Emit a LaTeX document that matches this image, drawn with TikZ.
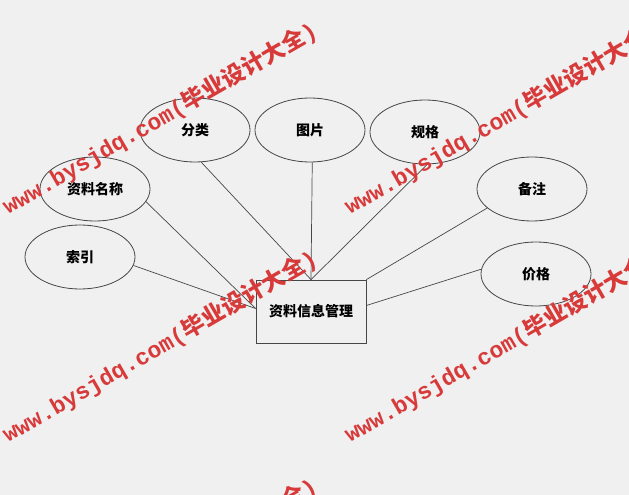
\documentclass[tikz,border=0pt]{standalone}
\usepackage{fontspec}
\newfontfamily\cjk{Noto Sans CJK SC}
\newfontfamily\wmfont{Liberation Mono}
\usetikzlibrary{shapes.geometric}
\definecolor{bggray}{RGB}{240,240,240}
\definecolor{edgegray}{RGB}{70,70,70}
\definecolor{wmred}{RGB}{216,58,58}

\begin{document}
\begin{tikzpicture}[x=1pt,y=-1pt,
	attr/.style={ellipse,draw=edgegray,line width=0.8pt,minimum width=110pt,minimum height=64pt,inner sep=0pt,font=\cjk\bfseries\fontsize{14}{16}\selectfont},
	entity/.style={rectangle,draw=edgegray,line width=0.8pt,minimum width=110pt,minimum height=63pt,inner sep=0pt,font=\cjk\bfseries\fontsize{14}{16}\selectfont},
	link/.style={draw=edgegray,line width=0.7pt},
	wmark/.style={text=wmred,rotate=30,anchor=base west,inner sep=0pt,font=\wmfont\bfseries\fontsize{23}{25}\selectfont}]
	
	% background
	\fill[bggray] (0,0) rectangle (629,495);
	\useasboundingbox (0,0) rectangle (629,495);
	
	% entity and attributes
	\node[entity] (ziliao) at (311,311.5) {资料信息管理};
	
	\node[attr] (fenlei) at (195,130) {分类};
	\node[attr] (tupian) at (310,130) {图片};
	\node[attr] (guige) at (425,132) {规格};
	\node[attr] (mingcheng) at (95,189) {资料名称};
	\node[attr] (beizhu) at (532,189) {备注};
	\node[attr] (suoyin) at (80,257) {索引};
	\node[attr] (jiage) at (536,274) {价格};
	
	\draw[link] (suoyin.-9) -- ([yshift=3pt]ziliao.west);
	\draw[link] (mingcheng.-14) -- ([yshift=3pt]ziliao.west);
	\draw[link] (fenlei.-79) -- (ziliao.north);
	\draw[link] (tupian.-86) -- (ziliao.north);
	\draw[link] (guige.-86) -- (ziliao.north);
	\draw[link] (beizhu.-157) -- (ziliao.north east);
	\draw[link] (jiage.175) -- ([yshift=6pt]ziliao.east);
	
	% watermarks
	\begin{scope}
		\clip (0,0) rectangle (629,495);
		\node[wmark] (wm1) at (8,215) {www.bysjdq.com({\cjk 毕业设计大全})};
		\node[wmark] (wm2) at (350,215) {www.bysjdq.com({\cjk 毕业设计大全})};
		\node[wmark] (wm3) at (8,443) {www.bysjdq.com({\cjk 毕业设计大全})};
		\node[wmark] (wm4) at (350,443) {www.bysjdq.com({\cjk 毕业设计大全})};
		\node[wmark] (wm5) at (8,671) {www.bysjdq.com({\cjk 毕业设计大全})};
	\end{scope}
	
\end{tikzpicture}
\end{document}
